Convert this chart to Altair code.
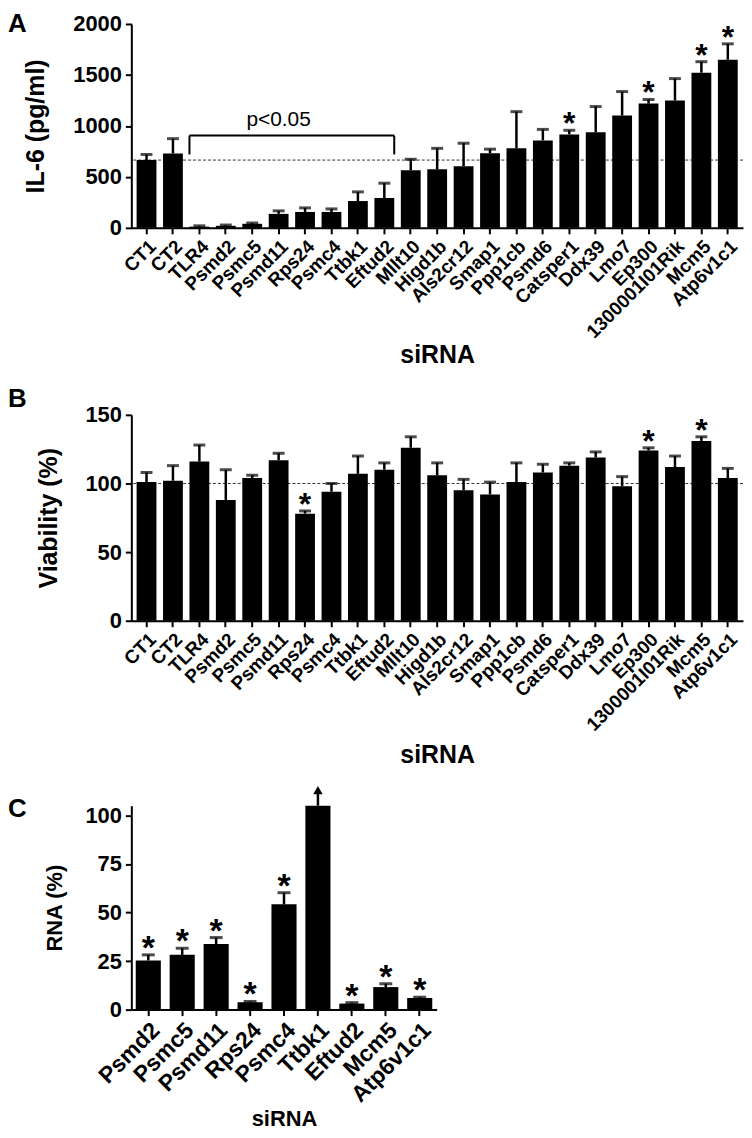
import altair as alt
import pandas as pd

FONT = "Liberation Sans"

# ---------------- data ----------------
genes_ab = ["CT1", "CT2", "TLR4", "Psmd2", "Psmc5", "Psmd11", "Rps24", "Psmc4",
            "Ttbk1", "Eftud2", "Mllt10", "Higd1b", "Als2cr12", "Smap1", "Ppp1cb",
            "Psmd6", "Catsper1", "Ddx39", "Lmo7", "Ep300", "1300001I01Rik",
            "Mcm5", "Atp6v1c1"]
il6_mean = [665, 730, 12, 20, 40, 137, 156, 156, 263, 293, 565, 575, 605, 732,
            780, 858, 917, 937, 1102, 1219, 1249, 1522, 1649]
il6_err = [55, 145, 8, 8, 8, 30, 40, 30, 90, 145, 108, 205, 225, 40, 360, 108,
           40, 253, 235, 40, 215, 108, 156]
il6_star = [0, 0, 0, 0, 0, 0, 0, 0, 0, 0, 0, 0, 0, 0, 0, 0, 1, 0, 0, 1, 0, 1, 1]

via_mean = [101, 102, 116, 88, 104, 117, 78, 94, 107, 110, 126, 106, 95, 92,
            101, 108, 113, 119, 98, 124, 112, 131, 104]
via_err = [7, 11, 12, 22, 2, 5, 2, 6, 13, 5, 8, 9, 8, 9, 14, 6, 2, 4, 7, 2, 8, 3, 7]
via_star = [0, 0, 0, 0, 0, 0, 1, 0, 0, 0, 0, 0, 0, 0, 0, 0, 0, 0, 0, 1, 0, 1, 0]

genes_c = ["Psmd2", "Psmc5", "Psmd11", "Rps24", "Psmc4", "Ttbk1", "Eftud2",
           "Mcm5", "Atp6v1c1"]
rna_mean = [25.3, 28.2, 33.8, 3.8, 54.2, 105, 3.1, 11.6, 6.0]
rna_err = [2.9, 3.4, 3.3, 0.4, 6.0, 0, 0.5, 1.7, 0.4]
rna_star = [1, 1, 1, 1, 1, 0, 1, 1, 1]

il6_ref = 665
via_ref = 100
bracket = {"from": "TLR4", "to": "Eftud2", "top": 905, "bottom": 720,
           "label": "p<0.05", "label_at": "Psmd11", "label_y": 995}
arrow = {"gene": "Ttbk1", "start": 105, "end": 111, "head": 113}


def frame(genes, mean, err, star):
    df = pd.DataFrame({"gene": genes, "value": mean, "err": err, "star": star})
    df["top"] = df["value"] + df["err"]
    return df


def build(df, genes, width, height, ydomain, yticks, ytitle, lab_x, lab_y,
          ytitle_size, ytitle_pad, xtitle_size, xtitle_pad, star_size, cap_size,
          pad_inner, pad_outer, letter, letter_offset, ref=None):
    x_axis = alt.Axis(title="siRNA", labelAngle=-45, labelFontSize=lab_x,
                      titleFontSize=xtitle_size, labelOverlap=False,
                      labelPadding=3, titlePadding=xtitle_pad)
    y_axis = alt.Axis(title=ytitle, values=yticks, format="d",
                      labelFontSize=lab_y, titleFontSize=ytitle_size,
                      labelPadding=4, titlePadding=ytitle_pad)
    xs = alt.Scale(domain=genes, paddingInner=pad_inner, paddingOuter=pad_outer)
    ys = alt.Scale(domain=ydomain, nice=False, zero=True)

    def X(field="gene"):
        return alt.X(field, type="nominal", scale=xs, axis=x_axis)

    def Y(field):
        return alt.Y(field, type="quantitative", scale=ys, axis=y_axis)

    base = alt.Chart(df)
    bars = base.mark_bar(color="black").encode(x=X(), y=Y("value"))
    errd = base.transform_filter("datum.err > 0")
    err = errd.mark_rule(color="black", strokeWidth=2.5).encode(
        x=X(), y=Y("value"), y2="top:Q")
    cap = errd.mark_tick(color="black", thickness=3, size=cap_size).encode(
        x=X(), y=Y("top"))
    stars = base.transform_filter("datum.star == 1").mark_text(
        text="*", fontSize=star_size, fontWeight="bold", font=FONT,
        baseline="alphabetic", dy=4, color="black").encode(x=X(), y=Y("top"))
    layers = [bars, err, cap, stars]
    if ref is not None:
        one = alt.Chart(pd.DataFrame({"ref": [ref]}))
        layers.insert(0, one.mark_rule(color="#333", strokeWidth=1,
                                       strokeDash=[3, 2]).encode(y=Y("ref")))
    chart = alt.layer(*layers).properties(
        width=width, height=height,
        title=alt.TitleParams(letter, anchor="start", frame="group",
                              fontSize=26, fontWeight="bold", font=FONT,
                              color="black", dx=-124, offset=letter_offset))
    return chart, xs, ys


# ---------------- panel A ----------------
dfa = frame(genes_ab, il6_mean, il6_err, il6_star)
a, xsa, ysa = build(dfa, genes_ab, 615, 205, [0, 2000],
                    [0, 500, 1000, 1500, 2000], "IL-6 (pg/ml)",
                    19, 22, 25, 24, 25, 1, 32, 12, 0.25, 0.2, "A", -24, il6_ref)
one = alt.Chart(pd.DataFrame({"k": [0]}))
br_h = one.mark_rule(color="black", strokeWidth=2).encode(
    x=alt.XDatum(bracket["from"], bandPosition=0, scale=xsa),
    x2=alt.X2Datum(bracket["to"], bandPosition=1),
    y=alt.YDatum(bracket["top"], scale=ysa))
br_l = one.mark_rule(color="black", strokeWidth=2).encode(
    x=alt.XDatum(bracket["from"], bandPosition=0, scale=xsa),
    y=alt.YDatum(bracket["bottom"], scale=ysa),
    y2=alt.Y2Datum(bracket["top"]))
br_r = one.mark_rule(color="black", strokeWidth=2).encode(
    x=alt.XDatum(bracket["to"], bandPosition=1, scale=xsa),
    y=alt.YDatum(bracket["bottom"], scale=ysa),
    y2=alt.Y2Datum(bracket["top"]))
br_t = one.mark_text(fontSize=21, font=FONT, color="black",
                     baseline="alphabetic").encode(
    x=alt.XDatum(bracket["label_at"], scale=xsa),
    y=alt.YDatum(bracket["label_y"], scale=ysa),
    text=alt.value(bracket["label"]))
a = alt.layer(a, br_h, br_l, br_r, br_t)

# ---------------- panel B ----------------
dfb = frame(genes_ab, via_mean, via_err, via_star)
b, xsb, ysb = build(dfb, genes_ab, 615, 207, [0, 150],
                    [0, 50, 100, 150], "Viability (%)",
                    19, 22, 25, 24, 25, 8, 32, 12, 0.25, 0.2, "B", -8, via_ref)

# ---------------- panel C ----------------
dfc = frame(genes_c, rna_mean, rna_err, rna_star)
c, xsc, ysc = build(dfc, genes_c, 307, 205, [0, 105],
                    [0, 25, 50, 75, 100], "RNA (%)",
                    23, 22, 22, 18, 22, 2, 34, 13, 0.26, 0.13, "C", -36)
ar = pd.DataFrame({"gene": [arrow["gene"]], "start": [arrow["start"]],
                   "end": [arrow["end"]], "head": [arrow["head"]]})
ar_line = alt.Chart(ar).mark_rule(color="black", strokeWidth=2.5).encode(
    x=alt.X("gene:N", scale=xsc), y=alt.Y("start:Q", scale=ysc), y2="end:Q")
ar_head = alt.Chart(ar).mark_point(shape="triangle-up", filled=True, size=90,
                                   color="black", opacity=1).encode(
    x=alt.X("gene:N", scale=xsc), y=alt.Y("head:Q", scale=ysc))
c = alt.layer(c, ar_line, ar_head)

chart = alt.vconcat(a, b, c, spacing=18).properties(padding=0).configure_view(
    stroke=None).configure_axis(
    domainColor="black", domainWidth=2, tickColor="black", tickWidth=2,
    tickSize=6, labelColor="black", titleColor="black", labelFont=FONT,
    titleFont=FONT, labelFontWeight="bold", titleFontWeight="bold", grid=False)

chart.save("out.html", embed_options={"renderer": "svg", "actions": False})
